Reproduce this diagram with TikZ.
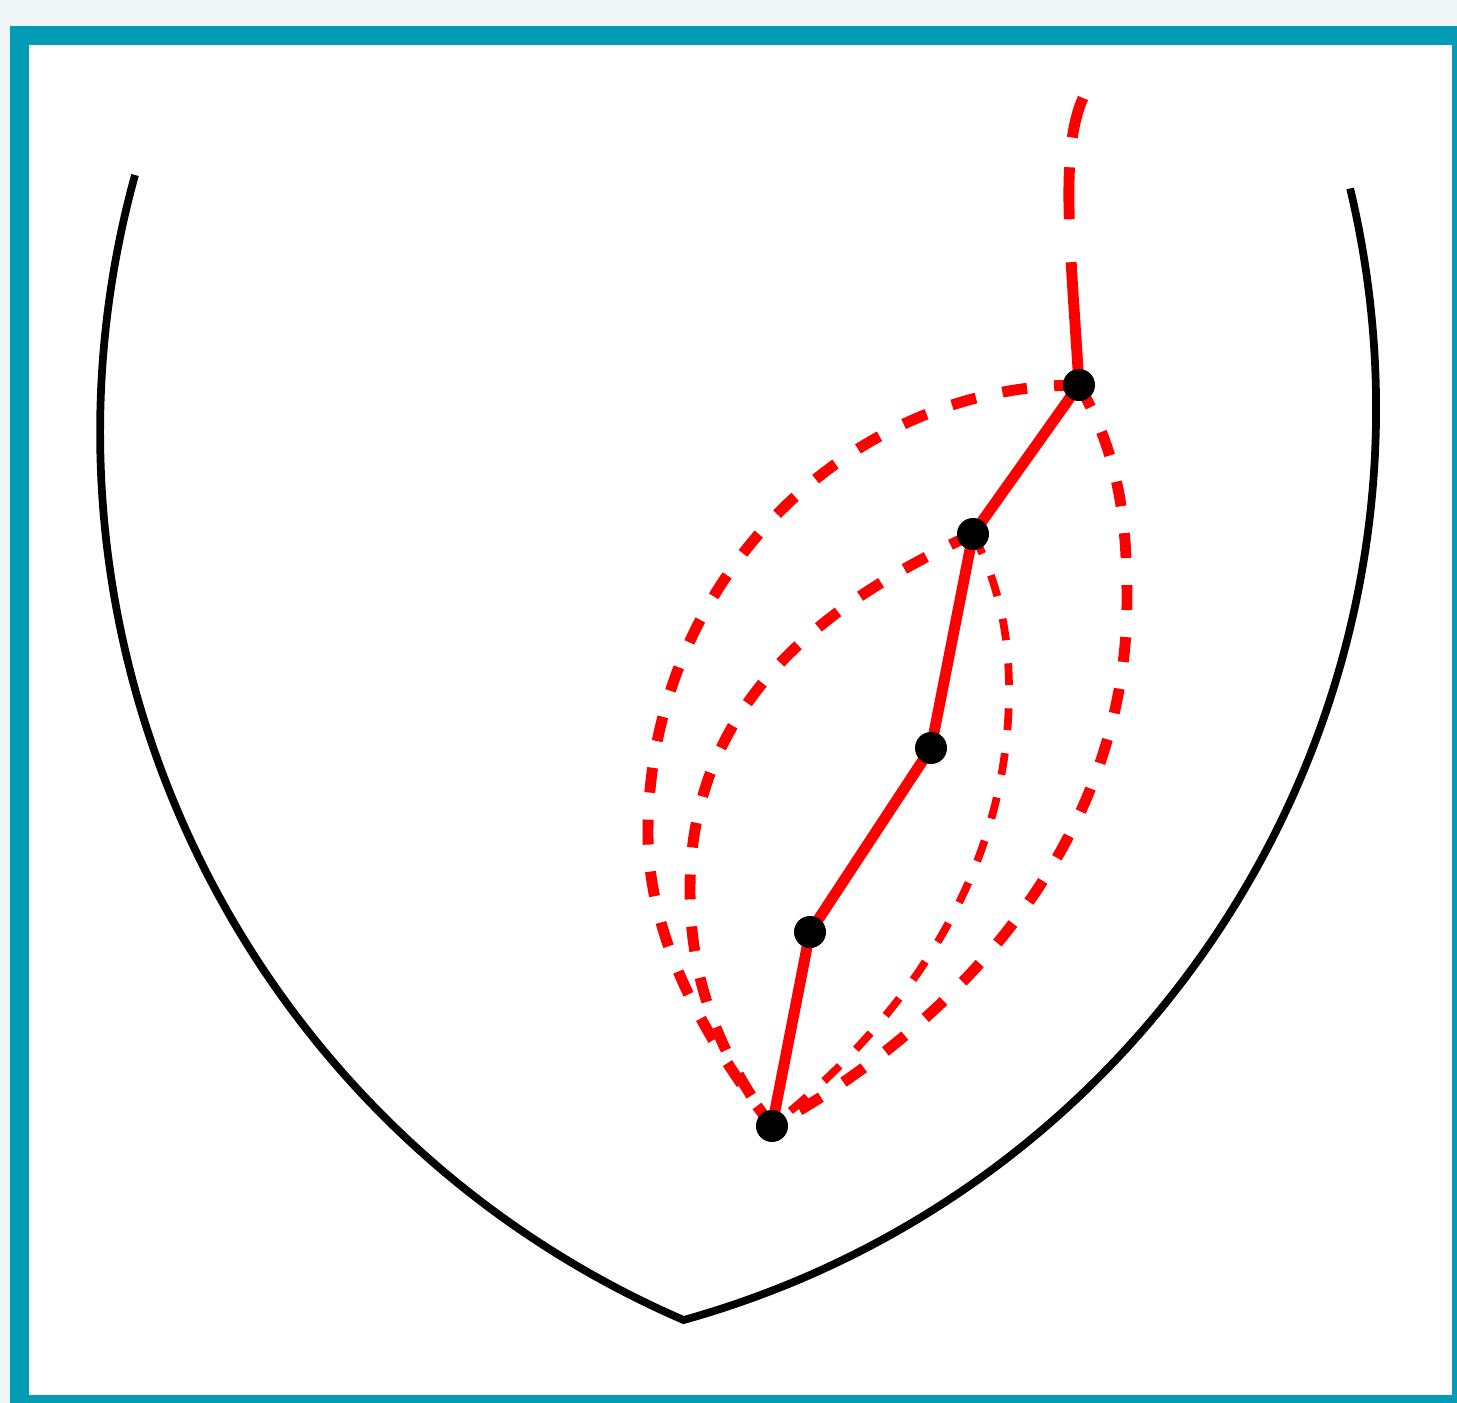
\documentclass[tikz,border=0pt]{standalone}
\usepackage{tikz}
\definecolor{bgpale}{RGB}{238,246,248}
\definecolor{frameteal}{RGB}{3,155,181}
\tikzset{
    vertex/.style={circle, fill=black, inner sep=0pt, minimum size=0.32cm, outer sep=0pt},
    walk/.style={red, line width=3.1pt},
    detour/.style={red, line width=3.1pt, dash pattern=on 7.1pt off 7.7pt},
    thindetour/.style={red, line width=2.2pt, dash pattern=on 6.2pt off 6.6pt},
    rim/.style={black, line width=2.2pt}
}

\begin{document}
\begin{tikzpicture}[x=0.01cm, y=-0.01cm]
        \useasboundingbox (0,0) rectangle (1457,1403);
        \fill[bgpale] (0,0) rectangle (1457,1403);
        \fill[frameteal] (10,26) rectangle (1457,1403);
        \fill[white] (29,45) rectangle (1452,1395);

        \draw[rim] (135,175) arc[start angle=195.4, end angle=113.4, radius=967.7]
            arc[start angle=74.4, end angle=-13.4, radius=947];

        \coordinate (p1) at (1079,385);
        \coordinate (p2) at (973,534);
        \coordinate (p3) at (931,748);
        \coordinate (p4) at (810,932);
        \coordinate (p5) at (772,1126);
        \coordinate (tail) at (1083,98);

        \draw[detour] (p1) .. controls (842,385) and (648,587) .. (648,833)
            .. controls (648,950) and (718,1055) .. (p5);
        \draw[detour] (p2) .. controls (830,600) and (690,700) .. (690,890)
            .. controls (690,980) and (719,1054) .. (p5);
        \draw[detour] (p1) .. controls (1119,455) and (1127,520) .. (1127,600)
            .. controls (1127,850) and (946,1031) .. (p5);
        \draw[thindetour] (p2) .. controls (1001,588) and (1009,640) .. (1009,690)
            .. controls (1009,850) and (930,1000) .. (p5);

        \draw[walk, dash pattern=on 35pt off 12.2pt on 14.8pt off 8.5pt on 12pt off 40pt]
            (p1) .. controls (1070,240) and (1060,150) .. (tail);
        \draw[walk] (p1) -- (p2) -- (p3) -- (p4) -- (p5);

        \node[vertex] (n1) at (p1) {};
        \node[vertex] (n2) at (p2) {};
        \node[vertex] (n3) at (p3) {};
        \node[vertex] (n4) at (p4) {};
        \node[vertex] (n5) at (p5) {};
    \end{tikzpicture}
\end{document}
